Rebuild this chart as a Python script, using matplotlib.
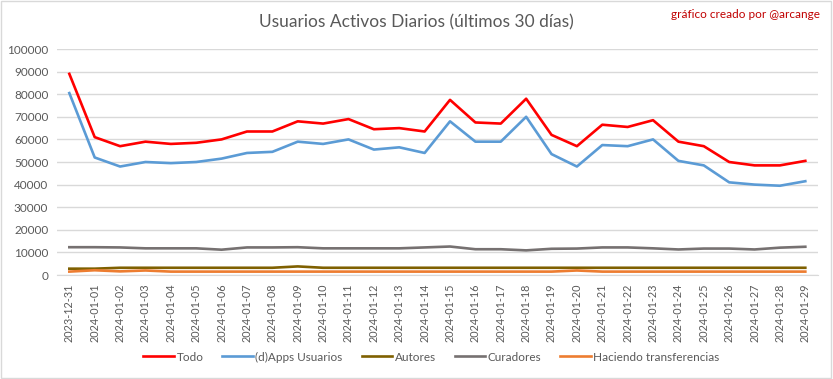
import numpy as np
import pandas as pd
import matplotlib
matplotlib.use("Agg")
import matplotlib.pyplot as plt

plt.rcParams["font.family"] = ["Lato", "DejaVu Sans"]

dates = pd.date_range("2023-12-31", "2024-01-29").strftime("%Y-%m-%d").tolist()

todo = [89000, 61000, 57000, 59000, 58000, 58500, 60000, 63500, 63500, 68000,
        67000, 69000, 64500, 65000, 63500, 77500, 67500, 67000, 78000, 62000,
        57000, 66500, 65500, 68500, 59000, 57000, 50000, 48500, 48500, 50500]
dapps = [80500, 52000, 48000, 50000, 49500, 50000, 51500, 54000, 54500, 59000,
         58000, 60000, 55500, 56500, 54000, 68000, 59000, 59000, 70000, 53500,
         48000, 57500, 57000, 60000, 50500, 48500, 41000, 40000, 39500, 41500]
autores = [2800, 2800, 3200, 3200, 3200, 3200, 3200, 3200, 3200, 3800,
           3200, 3200, 3200, 3200, 3200, 3200, 3200, 3200, 3200, 3200,
           3200, 3200, 3200, 3200, 3200, 3200, 3200, 3200, 3200, 3200]
curadores = [12300, 12300, 12200, 11800, 11800, 11800, 11200, 12200, 12200, 12300,
             11800, 11800, 11800, 11800, 12200, 12600, 11400, 11400, 10900, 11600,
             11700, 12200, 12200, 11800, 11300, 11700, 11700, 11300, 12100, 12500]
transfer = [1500, 2100, 1600, 2000, 1500, 1500, 1500, 1500, 1500, 1500,
            1500, 1500, 1500, 1500, 1500, 1500, 1500, 1500, 1500, 1500,
            2000, 1500, 1500, 1500, 1500, 1500, 1500, 1500, 1500, 1500]

series = [
    ("Todo", todo, "#FF0000"),
    ("(d)Apps Usuarios", dapps, "#5B9BD5"),
    ("Autores", autores, "#7F6000"),
    ("Curadores", curadores, "#767171"),
    ("Haciendo transferencias", transfer, "#ED7D31"),
]

fig = plt.figure(figsize=(8.33, 3.79), dpi=100)
ax = fig.add_axes([0.068, 0.2744, 0.914, 0.5963])

x = np.arange(len(dates))
for name, vals, col in series:
    ax.plot(x, vals, color=col, lw=1.9, label=name, solid_joinstyle="round")

ax.set_xlim(-0.5, len(dates) - 0.5)
ax.set_ylim(0, 100000)
ax.set_yticks(np.arange(0, 100001, 10000))
ax.set_xticks(x)
ax.set_xticklabels(dates, rotation=90, fontsize=7.8, color="#595959")
ax.tick_params(axis="y", labelsize=8.5, labelcolor="#595959", length=0, pad=6)
ax.tick_params(axis="x", length=0, pad=6)
ax.grid(axis="y", color="#D9D9D9", lw=1)
ax.set_axisbelow(True)
for s in ["top", "right", "left"]:
    ax.spines[s].set_visible(False)
ax.spines["bottom"].set_color("#D9D9D9")

fig.text(0.5, 0.94, "Usuarios Activos Diarios (últimos 30 días)", ha="center", va="center",
         fontsize=12.5, color="#595959")
fig.text(0.984, 0.962, "gráfico creado por @arcange", ha="right", va="center",
         fontsize=8.5, color="#C00000")

fig.legend(loc="center", bbox_to_anchor=(0.518, 0.058), ncol=5, frameon=False,
           fontsize=8.5, handlelength=2.6, columnspacing=1.6, handletextpad=0.2,
           labelcolor="#595959")

fig.patches.append(plt.Rectangle((0.001, 0.002), 0.997, 0.995, transform=fig.transFigure,
                                 fill=False, edgecolor="#D9D9D9", lw=1))

fig.savefig("out.png", dpi=100)
